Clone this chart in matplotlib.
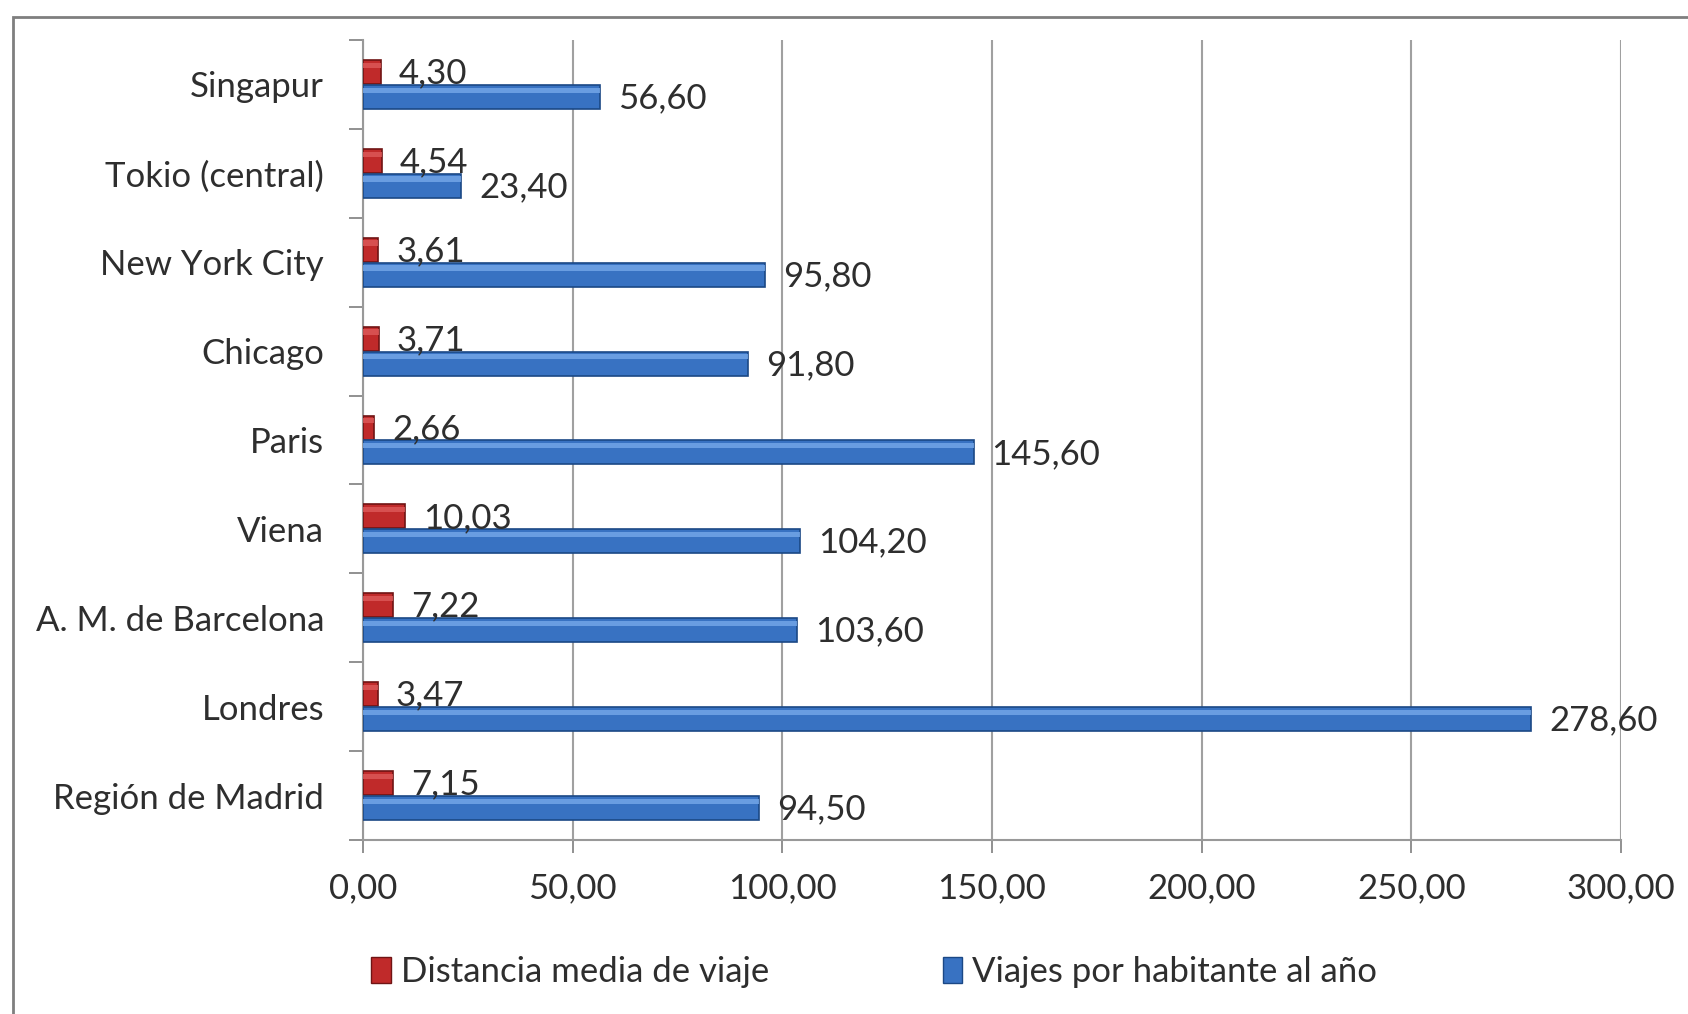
import matplotlib
matplotlib.use("Agg")
import matplotlib.pyplot as plt
from matplotlib.patches import Rectangle, Patch
import numpy as np

plt.rcParams['font.family'] = ['Lato', 'DejaVu Sans']

categories = ["Región de Madrid", "Londres", "A. M. de Barcelona", "Viena", "Paris",
              "Chicago", "New York City", "Tokio (central)", "Singapur"]
distancia = [7.15, 3.47, 7.22, 10.03, 2.66, 3.71, 3.61, 4.54, 4.30]
viajes = [94.50, 278.60, 103.60, 104.20, 145.60, 91.80, 95.80, 23.40, 56.60]
xticks = [0, 50, 100, 150, 200, 250, 300]
legend_labels = ["Distancia media de viaje", "Viajes por habitante al año"]

def fmt(v):
    return f"{v:.2f}".replace(".", ",")

W, H = 1688, 1014
fig = plt.figure(figsize=(W / 100, H / 100), dpi=100)
ax = fig.add_axes([363 / W, 1 - 840 / H, (1621 - 363) / W, (840 - 40) / H])

y = np.arange(len(categories))
h = 0.27
red, red_edge, red_hi = '#C02A2A', '#701414', '#DD5A5A'
blue, blue_edge, blue_hi = '#3872C2', '#1B4885', '#76A9EA'
txt = '#2E2E2E'

ax.barh(y + 0.14, distancia, height=h, color=red, edgecolor=red_edge, linewidth=1.2, zorder=3)
ax.barh(y - 0.14, viajes, height=h, color=blue, edgecolor=blue_edge, linewidth=1.2, zorder=3)
# bevel highlight near the top edge
ax.barh(y + 0.14 + h * 0.28, distancia, height=h * 0.22, color=red_hi, linewidth=0, zorder=4, alpha=0.8)
ax.barh(y - 0.14 + h * 0.28, viajes, height=h * 0.22, color=blue_hi, linewidth=0, zorder=4, alpha=0.8)

fs = 25
for yi, v in zip(y, distancia):
    ax.annotate(fmt(v), (v, yi + 0.14), xytext=(13, -1), textcoords='offset points',
                ha='left', va='center', fontsize=fs, color=txt, zorder=5)
for yi, v in zip(y, viajes):
    ax.annotate(fmt(v), (v, yi - 0.14), xytext=(13, -1), textcoords='offset points',
                ha='left', va='center', fontsize=fs, color=txt, zorder=5)

ax.set_xlim(0, 300)
ax.set_ylim(-0.5, len(categories) - 0.5)
ax.set_xticks(xticks)
ax.set_xticklabels([fmt(t) for t in xticks], fontsize=fs, color=txt)
ax.set_yticks(y)
ax.set_yticklabels(categories, fontsize=fs, color=txt)
ax.set_yticks(np.arange(len(categories) + 1) - 0.5, minor=True)
ax.tick_params(axis='y', which='major', length=0, pad=28)
ax.tick_params(axis='y', which='minor', length=10, width=1.3, color='#888888')
ax.tick_params(axis='x', which='major', length=9, width=1.3, color='#888888', pad=14)
ax.grid(axis='x', color='#A0A0A0', linewidth=1.5, zorder=0)
for s in ['top', 'right']:
    ax.spines[s].set_visible(False)
for s in ['left', 'bottom']:
    ax.spines[s].set_color('#999999')
    ax.spines[s].set_linewidth(1.5)

handles = [Patch(facecolor=red, edgecolor=red_edge), Patch(facecolor=blue, edgecolor=blue_edge)]
leg = fig.legend(handles, legend_labels, loc='center', bbox_to_anchor=(0.518, 1 - 972 / H), ncol=2,
                 frameon=False, fontsize=fs, handlelength=0.55, handleheight=0.75, handletextpad=0.3,
                 columnspacing=5.0)
for t in leg.get_texts():
    t.set_color(txt)

fig.patches.append(Rectangle((13 / W, -0.1), 1.2, 1 - 17 / H + 0.1, transform=fig.transFigure,
                             fill=False, edgecolor='#7F7F7F', linewidth=2))

fig.savefig("out.png", dpi=100)
